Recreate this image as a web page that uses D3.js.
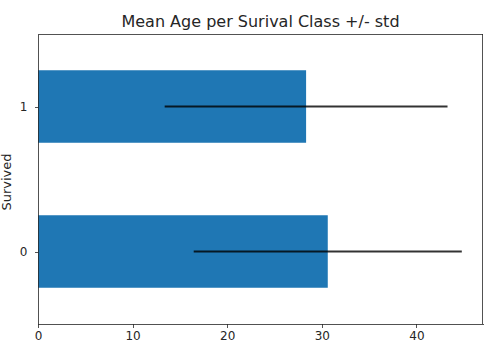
<!DOCTYPE html>
<meta charset="utf-8">
<style>
    body {
        margin: 0;
        background-color: #ffffff;
    }
    svg text {
        font-family: "DejaVu Sans", sans-serif;
        fill: #262626;
    }
    .axis path,
    .axis line {
        stroke: #262626;
        stroke-width: 0.8px;
        shape-rendering: crispEdges;
    }
    .bar {
        fill: #1f77b4;
    }
    .err {
        stroke: #000000;
        stroke-width: 1.8px;
        stroke-opacity: 0.8;
    }
</style>
<svg width="502" height="361"></svg>
<script src="https://cdn.jsdelivr.net/npm/d3@7/dist/d3.min.js"></script>

<script>
    // data
    var categories = ["0", "1"];
    var meanAge = [30.63, 28.34];
    var stdAge = [14.17, 14.95];
    var xTicks = [0, 10, 20, 30, 40];

    var svg = d3.select("svg"),
        margin = {top: 34, right: 19, bottom: 37, left: 38},
        width = +svg.attr("width") - margin.left - margin.right,
        height = +svg.attr("height") - margin.top - margin.bottom;

    var data = categories.map(function(c, i) {
        return {cat: c, mean: meanAge[i], std: stdAge[i]};
    });

    var xMax = d3.max(data, function(d) { return d.mean + d.std; }) * 1.05;
    var x = d3.scaleLinear().domain([0, xMax]).range([0, width]);
    // category position as a number, like matplotlib
    var y = d3.scaleLinear().domain([-0.5, categories.length - 0.5]).range([height, 0]);
    var barH = 0.5;

    var g = svg.append("g")
        .attr("transform", "translate(" + margin.left + "," + margin.top + ")");

    g.selectAll(".bar")
        .data(data)
        .enter().append("rect")
        .attr("class", "bar")
        .attr("x", 0)
        .attr("y", function(d, i) { return y(i + barH / 2); })
        .attr("height", function() { return y(0) - y(barH); })
        .attr("width", function(d) { return x(d.mean); });

    g.selectAll(".err")
        .data(data)
        .enter().append("line")
        .attr("class", "err")
        .attr("x1", function(d) { return x(d.mean - d.std); })
        .attr("x2", function(d) { return x(d.mean + d.std); })
        .attr("y1", function(d, i) { return y(i); })
        .attr("y2", function(d, i) { return y(i); });

    g.append("g")
        .attr("class", "axis")
        .attr("transform", "translate(0," + height + ")")
        .call(d3.axisBottom(x).tickValues(xTicks).tickSize(3.5).tickSizeOuter(0).tickPadding(4));

    g.append("g")
        .attr("class", "axis")
        .call(d3.axisLeft(y).tickValues(categories.map(function(c, i) { return i; }))
            .tickFormat(function(d) { return categories[d]; })
            .tickSize(3.5).tickSizeOuter(0).tickPadding(7));

    g.selectAll(".axis text").style("font-size", "12px").attr("fill", "#262626");

    // top and right spines
    g.append("line").attr("x1", 0).attr("x2", width).attr("y1", 0.5).attr("y2", 0.5)
        .attr("stroke", "#262626").attr("stroke-width", 0.8);
    g.append("line").attr("x1", width - 0.5).attr("x2", width - 0.5).attr("y1", 0).attr("y2", height)
        .attr("stroke", "#262626").attr("stroke-width", 0.8);

    svg.append("text")
        .attr("x", margin.left + width / 2)
        .attr("y", 27)
        .attr("text-anchor", "middle")
        .style("font-size", "16px")
        .text("Mean Age per Surival Class +/- std");

    svg.append("text")
        .attr("transform", "translate(11," + (margin.top + height / 2 + 3) + ") rotate(-90)")
        .attr("text-anchor", "middle")
        .style("font-size", "13px")
        .text("Survived");
</script>
